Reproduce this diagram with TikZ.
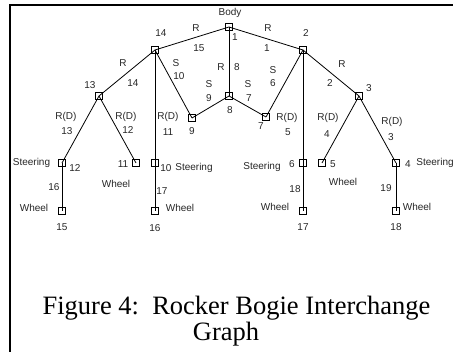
\documentclass[tikz,border=0pt]{standalone}
\usepackage{fontspec}
\setmainfont{Liberation Serif}
\newfontfamily\lblfont{Liberation Sans}
\begin{document}
\begin{tikzpicture}[x=1pt,y=-1pt,
  vbox/.style={draw,line width=0.8pt,minimum size=7pt,inner sep=0pt},
  edge/.style={line width=0.8pt},
  lbl/.style={font=\lblfont\fontsize{10}{11}\selectfont,inner sep=0pt,text=black!85},
  captext/.style={font=\fontsize{26.5}{30}\selectfont,inner sep=0pt,anchor=base}]
\useasboundingbox (0,0) rectangle (453,352);
\draw[line width=2.2pt] (10,353) -- (10,5) -- (454,5);
% vertices
\node[vbox] (n1) at (229,27) {};
\node[vbox] (n2) at (303,50) {};
\node[vbox] (n14) at (155,50) {};
\node[vbox] (n13) at (99,96) {};
\node[vbox] (n3) at (359,96) {};
\node[vbox] (n8) at (229,96) {};
\node[vbox] (n9) at (192,118) {};
\node[vbox] (n7) at (266,117) {};
\node[vbox] (n12) at (62,163) {};
\node[vbox] (n11) at (136,163) {};
\node[vbox] (n10) at (155,163) {};
\node[vbox] (n6) at (303,163) {};
\node[vbox] (n5) at (322,163) {};
\node[vbox] (n4) at (396,163) {};
\node[vbox] (n15) at (62,211) {};
\node[vbox] (n16) at (155,211) {};
\node[vbox] (n17) at (303,211) {};
\node[vbox] (n18) at (396,211) {};
% edges
\foreach \a/\b in {n1/n14,n1/n2,n1/n8,n14/n13,n14/n9,n14/n10,n9/n8,n8/n7,n7/n2,n2/n6,n2/n3,n13/n12,n13/n11,n3/n5,n3/n4,n12/n15,n10/n16,n6/n17,n4/n18}
  \draw[edge] (\a.center) -- (\b.center);
% vertex labels
\node[lbl] (tbody) at (230,13) {Body};
\node[lbl] (t1) at (235,37) {1};
\node[lbl] (t14) at (161,33) {14};
\node[lbl] (t2) at (306,33) {2};
\node[lbl] (t13) at (90,85) {13};
\node[lbl] (t3) at (369,88) {3};
\node[lbl] (t8) at (230,110) {8};
\node[lbl] (t9) at (192,131) {9};
\node[lbl] (t7) at (261,126) {7};
\node[lbl] (tst12) at (31.5,163) {Steering};
\node[lbl] (t12) at (75,168) {12};
\node[lbl] (t11) at (123,164) {11};
\node[lbl] (tw11) at (116,184) {Wheel};
\node[lbl] (t10) at (166,168) {10};
\node[lbl] (tst10) at (194,168) {Steering};
\node[lbl] (tst6) at (262,167) {Steering};
\node[lbl] (t6) at (292,164) {6};
\node[lbl] (t5) at (333,164) {5};
\node[lbl] (tw5) at (343,182) {Wheel};
\node[lbl] (t4) at (408,164) {4};
\node[lbl] (tst4) at (435,163) {Steering};
\node[lbl] (tw15) at (34,208) {Wheel};
\node[lbl] (t15) at (62,227) {15};
\node[lbl] (tw16) at (180,208) {Wheel};
\node[lbl] (t16) at (155,228) {16};
\node[lbl] (tw17) at (275,207) {Wheel};
\node[lbl] (t17) at (303,227) {17};
\node[lbl] (tw18) at (417,207) {Wheel};
\node[lbl] (t18) at (396,227) {18};
% edge labels
\node[lbl] (e15a) at (196,28) {R};
\node[lbl] (e15b) at (199,48) {15};
\node[lbl] (e1a) at (268,28) {R};
\node[lbl] (e1b) at (267,48) {1};
\node[lbl] (e14a) at (123,63) {R};
\node[lbl] (e14b) at (133,83) {14};
\node[lbl] (e2a) at (342,64) {R};
\node[lbl] (e2b) at (330,83) {2};
\node[lbl] (e10a) at (176,63) {S};
\node[lbl] (e10b) at (179,76) {10};
\node[lbl] (e8a) at (221,67) {R};
\node[lbl] (e8b) at (237,67) {8};
\node[lbl] (e9a) at (209,84) {S};
\node[lbl] (e9b) at (209,98) {9};
\node[lbl] (e7a) at (248,84) {S};
\node[lbl] (e7b) at (249,98) {7};
\node[lbl] (e6a) at (273,70) {S};
\node[lbl] (e6b) at (273,83) {6};
\node[lbl] (e13a) at (66,117) {R(D)};
\node[lbl] (e13b) at (67,131) {13};
\node[lbl] (e12a) at (126,117) {R(D)};
\node[lbl] (e12b) at (128,130) {12};
\node[lbl] (e11a) at (168,117) {R(D)};
\node[lbl] (e11b) at (168,132) {11};
\node[lbl] (e5a) at (287,118) {R(D)};
\node[lbl] (e5b) at (288,132) {5};
\node[lbl] (e4a) at (328,118) {R(D)};
\node[lbl] (e4b) at (327,134) {4};
\node[lbl] (e3a) at (392,122) {R(D)};
\node[lbl] (e3b) at (391,137) {3};
\node[lbl] (e16) at (54,187) {16};
\node[lbl] (e17) at (162,191) {17};
\node[lbl] (e18) at (295,189) {18};
\node[lbl] (e19) at (386,188) {19};
% caption
\node[captext] (cap1) at (236.5,315) {Figure 4:\ \ Rocker Bogie Interchange};
\node[captext] (cap2) at (226,341) {Graph};
\end{tikzpicture}
\end{document}
